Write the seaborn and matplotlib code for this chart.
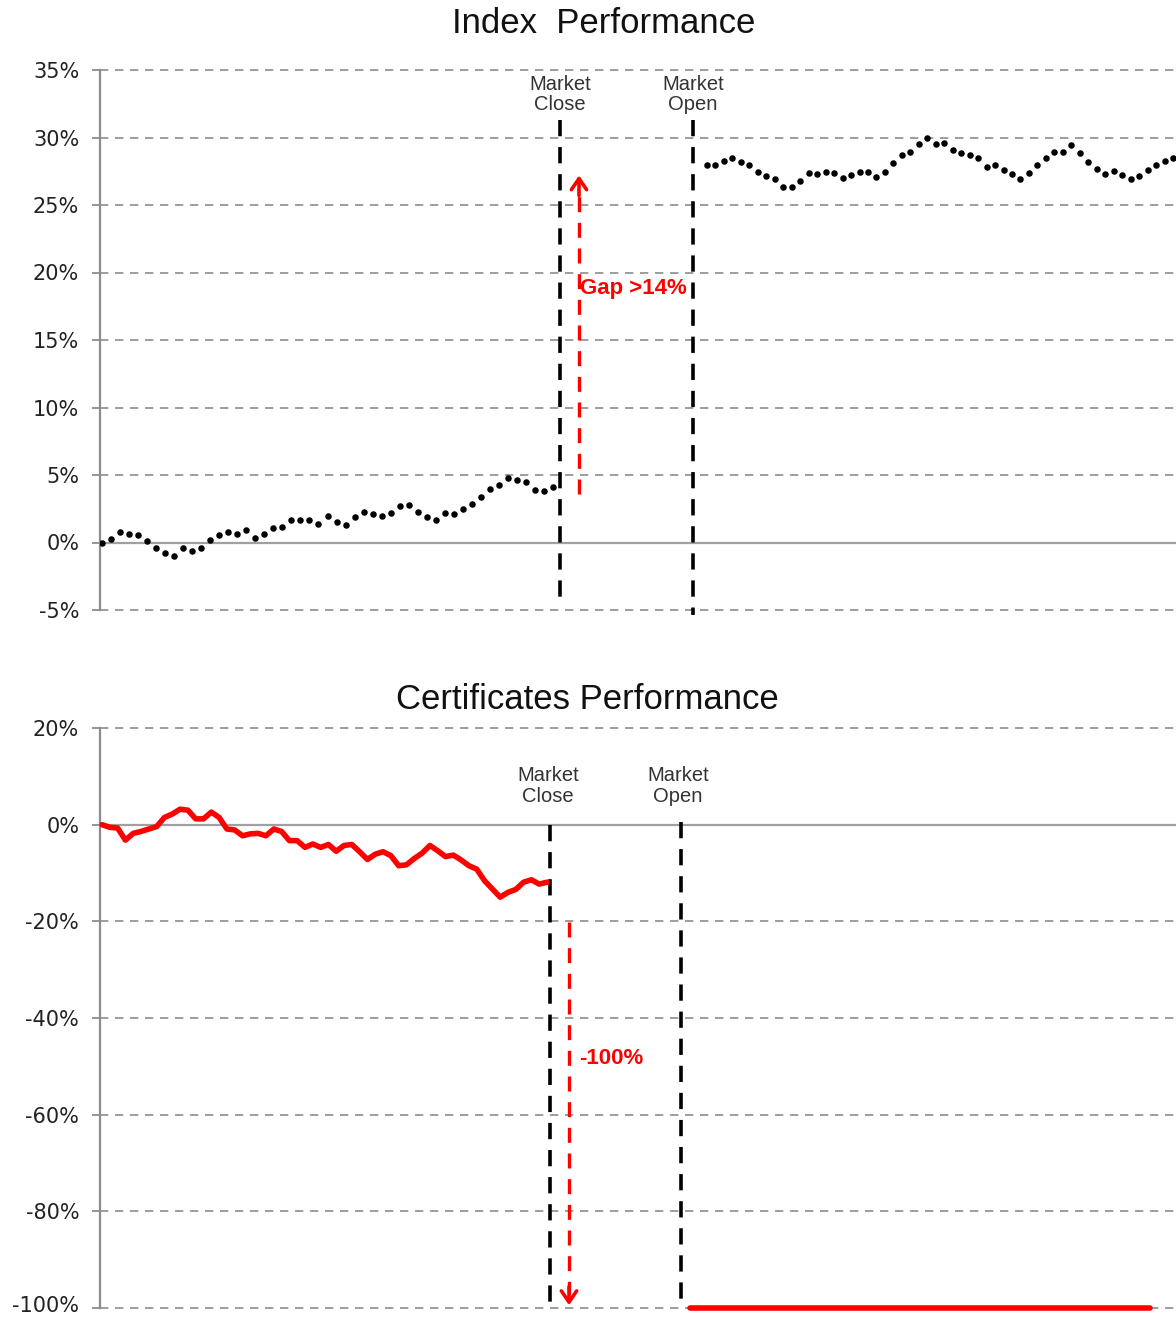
import numpy as np
import matplotlib
matplotlib.use("Agg")
import matplotlib.pyplot as plt
import matplotlib.ticker as mticker
import matplotlib.transforms as mtransforms
import seaborn as sns
import pandas as pd

# Index performance (%) sampled before the market close and after the reopening
index_before = [0.0, 0.27, 0.81, 0.64, 0.52, 0.12, -0.42, -0.81, -1.03, -0.44,
                -0.62, -0.42, 0.17, 0.52, 0.81, 0.62, 0.89, 0.37, 0.64, 1.11,
                1.16, 1.63, 1.63, 1.63, 1.40, 1.95, 1.55, 1.31, 1.87, 2.29,
                2.09, 1.95, 2.17, 2.73, 2.78, 2.24, 1.87, 1.67, 2.17, 2.09,
                2.49, 2.88, 3.35, 3.97, 4.26, 4.75, 4.63, 4.46, 3.89, 3.79, 4.09]
index_after = [27.93, 27.93, 28.27, 28.51, 28.22, 28.0, 27.44, 27.15, 26.93, 26.32,
               26.32, 26.78, 27.34, 27.27, 27.44, 27.37, 27.0, 27.2, 27.41, 27.41,
               27.05, 27.41, 28.1, 28.71, 28.95, 29.54, 29.98, 29.49, 29.56, 29.1,
               28.88, 28.71, 28.46, 27.83, 27.98, 27.61, 27.27, 26.95, 27.34, 27.93,
               28.46, 28.95, 28.9, 29.46, 28.85, 28.22, 27.68, 27.29, 27.51, 27.24,
               26.95, 27.17, 27.56, 27.93, 28.24, 28.51]

# Certificate performance (%)
cert_before = [0.0, -0.55, -0.7, -3.2, -1.8, -1.4, -0.9, -0.4, 1.5, 2.2,
               3.2, 3.0, 1.2, 1.2, 2.6, 1.5, -0.9, -1.1, -2.3, -1.9,
               -1.8, -2.3, -0.9, -1.4, -3.3, -3.3, -4.7, -4.0, -4.7, -4.1,
               -5.5, -4.3, -4.1, -5.6, -7.2, -6.1, -5.6, -6.4, -8.5, -8.3,
               -7.0, -5.9, -4.3, -5.4, -6.6, -6.3, -7.3, -8.5, -9.2, -11.6,
               -13.3, -15.0, -14.0, -13.4, -11.9, -11.4, -12.3, -11.9]
cert_after = [-100.0, -100.0, -100.0, -100.0, -100.0, -100.0,
              -100.0, -100.0, -100.0, -100.0, -100.0, -100.0]

idx_ticks = [-5, 0, 5, 10, 15, 20, 25, 30, 35]
cert_ticks = [-100, -80, -60, -40, -20, 0, 20]

# time axis (arbitrary session units)
t_end = 1076
idx_close, idx_open = 460, 593
cert_close, cert_open = 450, 581
t_idx_before = np.linspace(2, 453, len(index_before))
t_idx_after = np.linspace(607, 1073, len(index_after))
t_cert_before = np.linspace(2, 447, len(cert_before))
t_cert_after = np.linspace(590, 1050, len(cert_after))

sns.set_style("white")
plt.rcParams['font.family'] = ['Liberation Sans', 'DejaVu Sans']

fig = plt.figure(figsize=(11.76, 13.17), dpi=100)
ax1 = fig.add_axes([100 / 1176, 1 - 610 / 1317, 1076 / 1176, 540 / 1317])
ax2 = fig.add_axes([100 / 1176, 1 - 1308 / 1317, 1076 / 1176, 580 / 1317])

grid_kw = dict(color='#8c8c8c', lw=1.2, dashes=(5, 4))
vline_kw = dict(color='black', lw=2.6, dashes=(4.5, 3), clip_on=False)
red_dash = dict(color='red', lw=2.4, dashes=(4.5, 3.2), clip_on=False)
head = dict(arrowstyle='->,head_length=0.8,head_width=0.55', color='red', lw=2.6)


def style_axis(ax, ticks):
    ax.set_xlim(0, t_end)
    ax.set_ylim(ticks[0], ticks[-1])
    ax.set_yticks(ticks)
    ax.yaxis.set_major_formatter(mticker.FuncFormatter(lambda v, p: f"{v:.0f}%"))
    ax.set_xticks([])
    for t in ticks:
        if t != 0:
            ax.axhline(t, zorder=0, clip_on=False, **grid_kw)
    ax.axhline(0, color='#a0a0a0', lw=1.6, zorder=0)
    for s in ['top', 'right', 'bottom']:
        ax.spines[s].set_visible(False)
    ax.spines['left'].set_color('#8c8c8c')
    ax.spines['left'].set_linewidth(1.6)
    ax.tick_params(axis='y', length=6, width=1.3, color='#8c8c8c', pad=9,
                   labelsize=15, labelcolor='#222222', left=True)
    for lab in ax.get_yticklabels():
        lab.set_family(['DejaVu Sans'])
    ax.set_xlabel('')
    ax.set_ylabel('')


# ---------------- Index Performance ----------------
df_a = pd.DataFrame({'t': t_idx_before, 'perf': index_before})
df_b = pd.DataFrame({'t': t_idx_after, 'perf': index_after})
sns.scatterplot(data=df_a, x='t', y='perf', color='black', s=22, linewidth=0, ax=ax1, zorder=3)
sns.scatterplot(data=df_b, x='t', y='perf', color='black', s=22, linewidth=0, ax=ax1, zorder=3)
style_axis(ax1, idx_ticks)
ax1.plot([idx_close, idx_close], [31.3, -4.6], **vline_kw)
ax1.plot([idx_open, idx_open], [31.3, -5.4], **vline_kw)
ax1.text(idx_close, 33.2, 'Market\nClose', ha='center', va='center', fontsize=14.5,
         color='#333333', linespacing=1.1)
ax1.text(idx_open, 33.2, 'Market\nOpen', ha='center', va='center', fontsize=14.5,
         color='#333333', linespacing=1.1)
ax1.plot([479, 479], [3.6, 26.0], **red_dash)
ax1.annotate('', xy=(479, 27.4), xytext=(479, 25.5), arrowprops=head)
ax1.text(480, 18.85, 'Gap >14%', color='red', fontsize=16, fontweight='bold',
         ha='left', va='center')
ax1.set_title('Index  Performance', fontsize=25, pad=27, x=0.468, color='#111111')

# ---------------- Certificates Performance ----------------
df_c = pd.DataFrame({'t': t_cert_before, 'perf': cert_before})
df_d = pd.DataFrame({'t': t_cert_after, 'perf': cert_after})
sns.lineplot(data=df_c, x='t', y='perf', color='red', lw=4, ax=ax2, zorder=3)
sns.lineplot(data=df_d, x='t', y='perf', color='red', lw=4, ax=ax2, zorder=3)
for ln in ax2.lines:
    ln.set_clip_on(False)
style_axis(ax2, cert_ticks)
# keep the bottom tick label inside the picture
lowest = ax2.get_yticklabels()[0]
lowest.set_transform(lowest.get_transform() +
                     mtransforms.ScaledTranslation(0, 4 / 100, fig.dpi_scale_trans))
ax2.plot([cert_close, cert_close], [0, -100], **vline_kw)
ax2.plot([cert_open, cert_open], [0.6, -100], **vline_kw)
ax2.text(cert_close - 2, 8.0, 'Market\nClose', ha='center', va='center', fontsize=14.5,
         color='#333333', linespacing=1.1)
ax2.text(cert_open - 3, 8.0, 'Market\nOpen', ha='center', va='center', fontsize=14.5,
         color='#333333', linespacing=1.1)
ax2.plot([469, 469], [-20.2, -97.0], **red_dash)
ax2.annotate('', xy=(469, -100), xytext=(469, -95), arrowprops=head,
             annotation_clip=False)
ax2.text(479, -48.3, '-100%', color='red', fontsize=16, fontweight='bold',
         ha='left', va='center')
ax2.set_title('Certificates Performance', fontsize=25, pad=14, x=0.453, color='#111111')

fig.savefig('out.png', dpi=100)
